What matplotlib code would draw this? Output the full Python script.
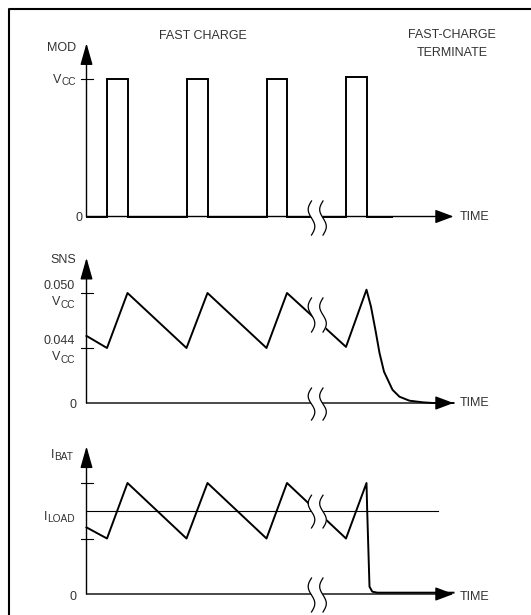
import numpy as np
import matplotlib
matplotlib.use("Agg")
import matplotlib.pyplot as plt
from matplotlib.lines import Line2D

plt.rcParams['font.family'] = ['Liberation Sans Narrow', 'Liberation Sans', 'DejaVu Sans']

W, H = 531, 615
txt = '#333333'

# time in arbitrary units, 0 = the vertical axis
pulse_on = [2.05, 10.0, 18.0, 25.95]
pulse_off = [4.1, 12.1, 20.05, 28.05]
pulse_high = [1.0, 1.0, 1.0, 1.012]      # MOD level, 1 = VCC
time_end = 36.7                            # tip of the time arrow
break_t = [22.5, 23.65]                    # the two strokes of the axis break

# SNS voltage, schematic units: 0.5 = 0.044 VCC, 1.0 = 0.050 VCC
sns_t = [0, 2.05, 4.1, 10.0, 12.1, 18.0, 20.05, 25.95, 28.0,
         28.45, 28.9, 29.3, 29.75, 30.6, 31.3, 32.3, 33.65, 34.65, 36.7]
sns_v = [0.61, 0.5, 1.0, 0.5, 1.0, 0.5, 1.0, 0.51, 1.03,
         0.875, 0.66, 0.455, 0.285, 0.12, 0.057, 0.021, 0.006, 0.0, 0.0]
sns_ticks = [1.0, 0.5]
sns_tick_labels = ['0.050', '0.044']

# battery current, schematic units
ibat_t = [0, 2.05, 4.1, 10.0, 12.1, 18.0, 20.05, 25.95, 28.0,
          28.07, 28.3, 28.58, 29.08, 36.7]
ibat_v = [0.60, 0.5, 1.0, 0.5, 1.0, 0.5, 1.0, 0.5, 1.0,
          0.75, 0.066, 0.021, 0.012, 0.012]
ibat_ticks = [1.0, 0.5]
iload = 0.745
iload_end = 35.15

fig = plt.figure(figsize=(W/100, H/100), dpi=100)

# frame (left and top edges only show in the picture)
fig.add_artist(Line2D([8.5/W, 8.5/W, 1], [0, 1-8.5/H, 1-8.5/H], color='k', lw=1.5,
                      transform=fig.transFigure))


def panel(top_px, bot_px, zero_px, scale_px):
    ax = fig.add_axes([0, 1-bot_px/H, 1, (bot_px-top_px)/H])
    ax.set_xlim(-8.65, (W-86.5)/10)
    ax.set_ylim((zero_px-bot_px)/scale_px, (zero_px-top_px)/scale_px)
    ax.axis('off')
    return ax


def axes_arrows(ax, ytip):
    ax.annotate('', xy=(0, ytip), xytext=(0, 0),
                arrowprops=dict(arrowstyle='-|>,head_length=0.95,head_width=0.27',
                                mutation_scale=14, lw=1.0, color='k', shrinkA=0, shrinkB=0))
    ax.annotate('', xy=(time_end, 0), xytext=(0, 0),
                arrowprops=dict(arrowstyle='-|>,head_length=0.8,head_width=0.3',
                                mutation_scale=14, lw=1.0, color='k', shrinkA=0, shrinkB=0))


def draw_break(ax, vtop, vbot):
    v = np.linspace(vtop, vbot, 60)
    s = (v - vtop) / (vbot - vtop)
    a = 0.33
    x1 = break_t[0] - a*np.sin(2*np.pi*s)
    x2 = break_t[1] - a*np.sin(2*np.pi*s)
    ax.fill_betweenx(v, x1, x2, color='white', zorder=5, lw=0)
    ax.plot(x1, v, color='k', lw=0.9, zorder=6, clip_on=False)
    ax.plot(x2, v, color='k', lw=0.9, zorder=6, clip_on=False)


def tick(ax, v):
    ax.plot([-0.6, 0.62], [v, v], color='k', lw=0.8)


def ylabel(ax, x, v, s):
    ax.text(x, v, s, ha='right', va='center', fontsize=9, color=txt)


def sublabel(ax, x, v, main, sub):
    # letter with a slightly smaller, slightly lowered subscript
    t_sub = ax.annotate(sub, xy=(x, v), xytext=(0, -1.2), textcoords='offset points',
                        ha='right', va='center', fontsize=7.3, color=txt)
    ax.annotate(main, xy=(0, 0), xycoords=t_sub, xytext=(0.2, 0.9),
                textcoords='offset points', ha='right', va='bottom', fontsize=9, color=txt)


# ---- MOD ----
ax1 = panel(0, 240, 216.5, 137.5)
axes_arrows(ax1, 1.26)
mx, my = [0], [0]
for on, off, hi in zip(pulse_on, pulse_off, pulse_high):
    mx += [on, on, off, off]
    my += [0, hi, hi, 0]
mx.append(30.5)
my.append(0)
ax1.plot(mx, my, color='k', lw=1.4, solid_joinstyle='miter', zorder=3)
tick(ax1, 1.0)
draw_break(ax1, 0.113, -0.135)
ylabel(ax1, -1.05, 1.225, 'MOD')
sublabel(ax1, -1.1, 0.99, 'V', 'CC')
ylabel(ax1, -0.45, -0.01, '0')
ax1.text(11.65, 1.313, 'FAST CHARGE', ha='center', va='center', fontsize=9, color=txt)
ax1.text(36.55, 1.32, 'FAST-CHARGE', ha='center', va='center', fontsize=9, color=txt)
ax1.text(36.55, 1.189, 'TERMINATE', ha='center', va='center', fontsize=9, color=txt)
ax1.text(37.35, 0, 'TIME', ha='left', va='center', fontsize=9, color=txt)

# ---- SNS ----
ax2 = panel(240, 425, 403, 110)
axes_arrows(ax2, 1.32)
ax2.plot(sns_t, sns_v, color='k', lw=1.4, zorder=3)
for v, lab in zip(sns_ticks, sns_tick_labels):
    tick(ax2, v)
    ylabel(ax2, -1.15, v + 0.06, lab)
    sublabel(ax2, -1.15, v - 0.09, 'V', 'CC')
draw_break(ax2, 0.955, 0.645)
draw_break(ax2, 0.136, -0.155)
ylabel(ax2, -1.05, 1.30, 'SNS')
ylabel(ax2, -1.05, -0.02, '0')
ax2.text(37.35, 0, 'TIME', ha='left', va='center', fontsize=9, color=txt)

# ---- IBAT ----
ax3 = panel(425, 615, 594, 111)
axes_arrows(ax3, 1.33)
ax3.plot(ibat_t, ibat_v, color='k', lw=1.4, zorder=3)
ax3.plot([0, iload_end], [iload, iload], color='k', lw=0.8, zorder=2)
for v in ibat_ticks:
    tick(ax3, v)
draw_break(ax3, 0.89, 0.595)
draw_break(ax3, 0.144, -0.162)
sublabel(ax3, -1.35, 1.25, 'I', 'BAT')
sublabel(ax3, -1.15, 0.69, 'I', 'LOAD')
ylabel(ax3, -1.05, -0.03, '0')
ax3.text(37.35, -0.03, 'TIME', ha='left', va='center', fontsize=9, color=txt)

fig.savefig('out.png', dpi=100, facecolor='white')
